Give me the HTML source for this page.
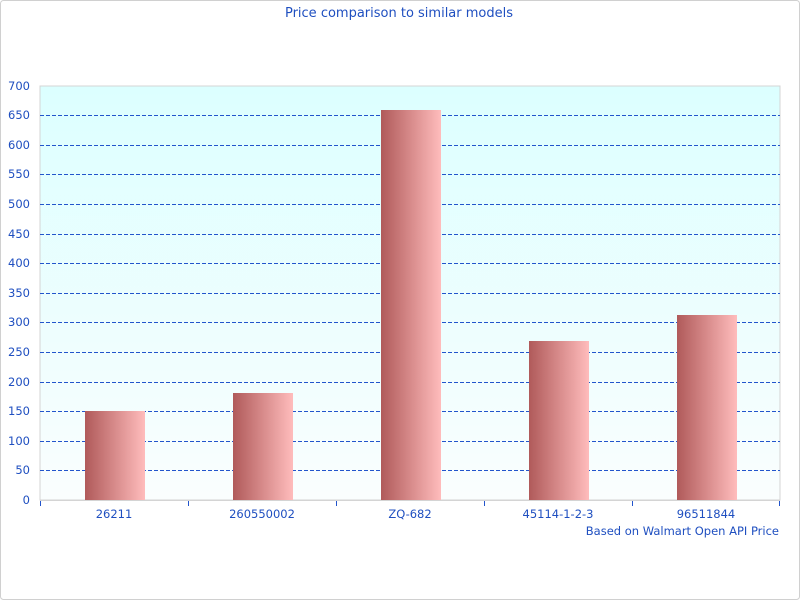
<!DOCTYPE html>
<html><head><meta charset="utf-8"><style>body{margin:0;background:#fff}svg{display:block}</style></head><body>
<svg width="800" height="600" xmlns="http://www.w3.org/2000/svg" font-family="DejaVu Sans, Liberation Sans, sans-serif" font-size="11.5" fill="#1f4fc0">
<defs>
<linearGradient id="bg" x1="0" y1="0" x2="0" y2="1"><stop offset="0" stop-color="#dcffff"/><stop offset="1" stop-color="#fafefe"/></linearGradient>
<linearGradient id="bar" x1="0" y1="0" x2="1" y2="0"><stop offset="0" stop-color="#b05a5a"/><stop offset="1" stop-color="#ffbcbc"/></linearGradient>
</defs>
<rect x="0.5" y="0.5" width="799" height="599" rx="3" fill="#fff" stroke="#d0d0d0"/>
<text x="399" y="17" text-anchor="middle" font-size="13">Price comparison to similar models</text>
<rect x="40" y="86" width="740" height="414" fill="url(#bg)" stroke="#d4d4d4"/>
<g stroke="#2255cc" stroke-dasharray="4,2" stroke-width="1">
<line x1="40" x2="780" y1="115.5" y2="115.5"/><line x1="40" x2="780" y1="145.5" y2="145.5"/><line x1="40" x2="780" y1="174.5" y2="174.5"/><line x1="40" x2="780" y1="204.5" y2="204.5"/><line x1="40" x2="780" y1="234.5" y2="234.5"/><line x1="40" x2="780" y1="263.5" y2="263.5"/><line x1="40" x2="780" y1="293.5" y2="293.5"/><line x1="40" x2="780" y1="322.5" y2="322.5"/><line x1="40" x2="780" y1="352.5" y2="352.5"/><line x1="40" x2="780" y1="382.5" y2="382.5"/><line x1="40" x2="780" y1="411.5" y2="411.5"/><line x1="40" x2="780" y1="441.5" y2="441.5"/><line x1="40" x2="780" y1="470.5" y2="470.5"/>
</g>
<g fill="url(#bar)">
<rect x="85" y="411" width="60" height="89"/>
<rect x="233" y="393" width="60" height="107"/>
<rect x="381" y="110" width="60" height="390"/>
<rect x="529" y="341" width="60" height="159"/>
<rect x="677" y="315" width="60" height="185"/>
</g>
<line x1="40" x2="780" y1="500.5" y2="500.5" stroke="#d4d4d4"/>
<g stroke="#2255cc"><line x1="40.5" x2="40.5" y1="501" y2="506"/><line x1="188.5" x2="188.5" y1="501" y2="506"/><line x1="336.5" x2="336.5" y1="501" y2="506"/><line x1="484.5" x2="484.5" y1="501" y2="506"/><line x1="632.5" x2="632.5" y1="501" y2="506"/><line x1="779.5" x2="779.5" y1="501" y2="506"/></g>
<g text-anchor="end">
<text x="30" y="90">700</text><text x="30" y="119">650</text><text x="30" y="149">600</text><text x="30" y="178">550</text><text x="30" y="208">500</text><text x="30" y="238">450</text><text x="30" y="267">400</text><text x="30" y="297">350</text><text x="30" y="326">300</text><text x="30" y="356">250</text><text x="30" y="386">200</text><text x="30" y="415">150</text><text x="30" y="445">100</text><text x="30" y="474">50</text><text x="30" y="504">0</text>
</g>
<g text-anchor="middle">
<text x="114" y="518">26211</text><text x="262" y="518">260550002</text><text x="410" y="518">ZQ-682</text><text x="558" y="518">45114-1-2-3</text><text x="706" y="518">96511844</text>
</g>
<text x="779" y="535" text-anchor="end">Based on Walmart Open API Price</text>
</svg>
</body></html>
